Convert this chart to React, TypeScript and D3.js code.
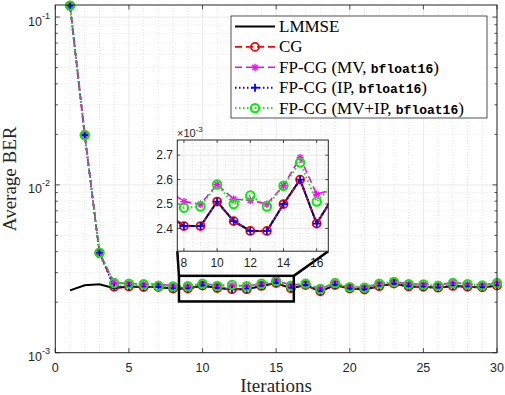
import * as d3 from 'd3';

// ---- data (BER values) ----
const iterations = d3.range(1, 31);
const lmmse = [2.35e-3, 2.52e-3, 2.56e-3, 2.42e-3, 2.48e-3, 2.46e-3, 2.46e-3, 2.41e-3, 2.41e-3, 2.51e-3,
  2.43e-3, 2.39e-3, 2.39e-3, 2.50e-3, 2.60e-3, 2.42e-3, 2.53e-3, 2.32e-3, 2.53e-3, 2.41e-3,
  2.38e-3, 2.49e-3, 2.58e-3, 2.48e-3, 2.47e-3, 2.44e-3, 2.50e-3, 2.47e-3, 2.45e-3, 2.51e-3];
const cg = [0.117, 0.0198, 3.94e-3, 2.47e-3, 2.48e-3, 2.46e-3, 2.46e-3, 2.41e-3, 2.41e-3, 2.51e-3,
  2.43e-3, 2.39e-3, 2.39e-3, 2.50e-3, 2.60e-3, 2.42e-3, 2.53e-3, 2.32e-3, 2.53e-3, 2.41e-3,
  2.38e-3, 2.49e-3, 2.58e-3, 2.48e-3, 2.47e-3, 2.44e-3, 2.50e-3, 2.47e-3, 2.45e-3, 2.51e-3];
const fpMV = [0.117, 0.0198, 3.94e-3, 2.62e-3, 2.58e-3, 2.57e-3, 2.56e-3, 2.51e-3, 2.50e-3, 2.58e-3,
  2.52e-3, 2.515e-3, 2.50e-3, 2.575e-3, 2.69e-3, 2.54e-3, 2.56e-3, 2.41e-3, 2.60e-3, 2.47e-3,
  2.45e-3, 2.58e-3, 2.65e-3, 2.57e-3, 2.56e-3, 2.53e-3, 2.62e-3, 2.57e-3, 2.53e-3, 2.61e-3];
const fpIP = [0.117, 0.0198, 3.94e-3, 2.47e-3, 2.48e-3, 2.46e-3, 2.46e-3, 2.41e-3, 2.41e-3, 2.51e-3,
  2.43e-3, 2.39e-3, 2.39e-3, 2.50e-3, 2.60e-3, 2.42e-3, 2.53e-3, 2.32e-3, 2.53e-3, 2.41e-3,
  2.38e-3, 2.49e-3, 2.58e-3, 2.48e-3, 2.47e-3, 2.44e-3, 2.50e-3, 2.47e-3, 2.45e-3, 2.51e-3];
const fpMVIP = [0.117, 0.0198, 3.94e-3, 2.60e-3, 2.58e-3, 2.56e-3, 2.50e-3, 2.485e-3, 2.49e-3, 2.58e-3,
  2.50e-3, 2.535e-3, 2.49e-3, 2.575e-3, 2.67e-3, 2.51e-3, 2.58e-3, 2.40e-3, 2.60e-3, 2.46e-3,
  2.44e-3, 2.58e-3, 2.64e-3, 2.56e-3, 2.55e-3, 2.51e-3, 2.60e-3, 2.56e-3, 2.52e-3, 2.60e-3];

const xTicks = [0, 5, 10, 15, 20, 25, 30];
const yDecades = [-3, -2, -1];
const insetXTicks = [8, 10, 12, 14, 16];
const insetYTicks = [2.4e-3, 2.5e-3, 2.6e-3, 2.7e-3];
const zoomX = [8.4, 16.2];
const zoomY = [2.02e-3, 2.87e-3];

type Mk = 'none' | 'circle' | 'star' | 'plus' | 'ring';
const series: { name: string; tag?: string; values: number[]; color: string; dash: string; width: number; marker: Mk }[] = [
  { name: 'LMMSE', values: lmmse, color: '#000000', dash: '', width: 2, marker: 'none' },
  { name: 'CG', values: cg, color: '#ff0000', dash: '7,4', width: 1.6, marker: 'circle' },
  { name: 'FP-CG (MV, ', tag: 'bfloat16', values: fpMV, color: '#ff00ff', dash: '7,4', width: 1.6, marker: 'star' },
  { name: 'FP-CG (IP, ', tag: 'bfloat16', values: fpIP, color: '#0000ff', dash: '1.5,2.5', width: 2, marker: 'plus' },
  { name: 'FP-CG (MV+IP, ', tag: 'bfloat16', values: fpMVIP, color: '#00ee00', dash: '1.5,2.5', width: 2, marker: 'ring' },
];

const sans = "'Liberation Sans', Arial, sans-serif";
const serif = "'Liberation Serif', 'Times New Roman', serif";
const mono = "'Liberation Mono', 'Courier New', monospace";
const axisCol = '#262626';
const gridCol = '#dcdcdc';

const M = { left: 55.3, right: 497, top: 5, bottom: 352.7 };
const IN = { left: 177.3, right: 328.3, top: 140, bottom: 251.2 };

function Marker({ kind, x, y, color }: { kind: Mk; x: number; y: number; color: string }) {
  if (kind === 'circle') return <circle cx={x} cy={y} r={4} fill="none" stroke={color} strokeWidth={1.8} />;
  if (kind === 'ring') return <circle cx={x} cy={y} r={4.2} fill="none" stroke={color} strokeWidth={2} />;
  if (kind === 'plus')
    return (
      <g stroke={color} strokeWidth={1.8}>
        <line x1={x - 4} x2={x + 4} y1={y} y2={y} />
        <line x1={x} x2={x} y1={y - 4} y2={y + 4} />
      </g>
    );
  if (kind === 'star') {
    const r = 3.6, d = r * 0.72;
    return (
      <g stroke={color} strokeWidth={1.4}>
        <line x1={x - r} x2={x + r} y1={y} y2={y} />
        <line x1={x} x2={x} y1={y - r} y2={y + r} />
        <line x1={x - d} x2={x + d} y1={y - d} y2={y + d} />
        <line x1={x - d} x2={x + d} y1={y + d} y2={y - d} />
      </g>
    );
  }
  return null;
}

export default function App() {
  const x = d3.scaleLinear().domain([0, 30]).range([M.left, M.right]);
  const y = d3.scaleLog().domain([1e-3, 0.118]).range([M.bottom, M.top]);
  const xi = d3.scaleLinear().domain([7.6, 16.7]).range([IN.left, IN.right]);
  const yi = d3.scaleLinear().domain([2.307e-3, 2.762e-3]).range([IN.bottom, IN.top]);

  const minorY: number[] = [];
  [-3, -2, -1].forEach(d => d3.range(2, 10).forEach(k => { const v = k * Math.pow(10, d); if (v <= 0.118) minorY.push(v); }));
  const minorX = d3.range(1, 30);

  const lineMain = (vals: number[]) =>
    d3.line<number>().x((_, i) => x(iterations[i])).y(v => y(v))(vals) || '';
  const lineInset = (vals: number[]) =>
    d3.line<number>().x((_, i) => xi(iterations[i])).y(v => yi(v))(vals) || '';

  const rx0 = x(zoomX[0]), rx1 = x(zoomX[1]), ry0 = y(zoomY[1]), ry1 = y(zoomY[0]);

  return (
    <svg width={505} height={395} style={{ position: 'absolute', left: 0, top: 0, background: '#fff' }}>
      <defs>
        <clipPath id="insetClip"><rect x={IN.left} y={IN.top} width={IN.right - IN.left} height={IN.bottom - IN.top} /></clipPath>
      </defs>
      <rect x={M.left} y={M.top} width={M.right - M.left} height={M.bottom - M.top} fill="#fff" />
      {/* grid */}
      {minorX.filter(v => v % 5 !== 0).map(v => (
        <line key={'gx' + v} x1={x(v)} x2={x(v)} y1={M.top} y2={M.bottom} stroke={gridCol} strokeWidth={0.7} strokeDasharray="1,2" />
      ))}
      {minorY.map(v => (
        <line key={'gy' + v} x1={M.left} x2={M.right} y1={y(v)} y2={y(v)} stroke={gridCol} strokeWidth={0.7} strokeDasharray="1,2" />
      ))}
      {xTicks.map(v => <line key={'Gx' + v} x1={x(v)} x2={x(v)} y1={M.top} y2={M.bottom} stroke="#e3e3e3" strokeWidth={0.8} />)}
      {yDecades.map(d => <line key={'Gy' + d} x1={M.left} x2={M.right} y1={y(Math.pow(10, d))} y2={y(Math.pow(10, d))} stroke="#e3e3e3" strokeWidth={0.8} />)}

      {/* ticks */}
      <g stroke={axisCol} strokeWidth={0.8}>
        {xTicks.map(v => (
          <g key={'tx' + v}>
            <line x1={x(v)} x2={x(v)} y1={M.bottom} y2={M.bottom - 4.5} />
            <line x1={x(v)} x2={x(v)} y1={M.top} y2={M.top + 4.5} />
          </g>
        ))}
        {yDecades.map(d => (
          <g key={'ty' + d}>
            <line x1={M.left} x2={M.left + 4.5} y1={y(Math.pow(10, d))} y2={y(Math.pow(10, d))} />
            <line x1={M.right} x2={M.right - 4.5} y1={y(Math.pow(10, d))} y2={y(Math.pow(10, d))} />
          </g>
        ))}
        {minorY.map(v => (
          <g key={'my' + v}>
            <line x1={M.left} x2={M.left + 2.5} y1={y(v)} y2={y(v)} />
            <line x1={M.right} x2={M.right - 2.5} y1={y(v)} y2={y(v)} />
          </g>
        ))}
      </g>

      {/* series */}
      {series.map(s => (
        <path key={'p' + s.name + s.color} d={lineMain(s.values)} fill="none" stroke={s.color} strokeWidth={s.width} strokeDasharray={s.dash || undefined} />
      ))}
      {series.map(s => s.marker !== 'none' && s.values.map((v, i) => (
        <Marker key={s.color + i} kind={s.marker} x={x(iterations[i])} y={y(v)} color={s.color} />
      )))}

      <rect x={M.left} y={M.top} width={M.right - M.left} height={M.bottom - M.top} fill="none" stroke={axisCol} strokeWidth={1} />

      {/* tick labels */}
      {xTicks.map(v => (
        <text key={'lx' + v} x={x(v)} y={372} textAnchor="middle" fontFamily={sans} fontSize={12.5} fill={axisCol}>{v}</text>
      ))}
      {yDecades.map(d => (
        <text key={'ly' + d} x={50} y={y(Math.pow(10, d)) + 8.5} textAnchor="end" fontFamily={sans} fontSize={12.5} fill={axisCol}>
          10<tspan dy={-7} fontSize={9}>{d}</tspan>
        </text>
      ))}
      <text x={(M.left + M.right) / 2} y={392} textAnchor="middle" fontFamily={serif} fontSize={19} fill={axisCol}>Iterations</text>
      <text transform={`translate(16,${(M.top + M.bottom) / 2}) rotate(-90)`} textAnchor="middle" fontFamily={serif} fontSize={19} fill={axisCol}>Average BER</text>

      {/* zoom rectangle and connectors */}
      <rect x={rx0} y={ry0} width={rx1 - rx0} height={ry1 - ry0} fill="none" stroke="#000" strokeWidth={2.5} />
      <line x1={rx0} y1={ry0} x2={IN.left} y2={IN.bottom} stroke="#000" strokeWidth={2.5} />
      <line x1={rx1} y1={ry0} x2={IN.right} y2={IN.bottom} stroke="#000" strokeWidth={2.5} />

      {/* inset */}
      <rect x={IN.left} y={IN.top} width={IN.right - IN.left} height={IN.bottom - IN.top} fill="#fff" />
      {d3.range(8, 16.75, 0.5).filter(v => v % 2 !== 0).map(v => (
        <line key={'igx' + v} x1={xi(v)} x2={xi(v)} y1={IN.top} y2={IN.bottom} stroke={gridCol} strokeWidth={0.7} strokeDasharray="1,2" />
      ))}
      {d3.range(2.32e-3, 2.762e-3, 0.02e-3).map(v => (
        <line key={'igy' + v} x1={IN.left} x2={IN.right} y1={yi(v)} y2={yi(v)} stroke={gridCol} strokeWidth={0.7} strokeDasharray="1,2" />
      ))}
      {insetXTicks.map(v => <line key={'iGx' + v} x1={xi(v)} x2={xi(v)} y1={IN.top} y2={IN.bottom} stroke="#e3e3e3" strokeWidth={0.8} />)}
      {insetYTicks.map(v => <line key={'iGy' + v} x1={IN.left} x2={IN.right} y1={yi(v)} y2={yi(v)} stroke="#e3e3e3" strokeWidth={0.8} />)}
      <g clipPath="url(#insetClip)">
        {series.map(s => (
          <path key={'ip' + s.color} d={lineInset(s.values)} fill="none" stroke={s.color} strokeWidth={s.width} strokeDasharray={s.dash || undefined} />
        ))}
      </g>
      {series.map(s => s.marker !== 'none' && s.values.map((v, i) =>
        iterations[i] >= 7.6 && iterations[i] <= 16.7 ? (
          <Marker key={'i' + s.color + i} kind={s.marker} x={xi(iterations[i])} y={yi(v)} color={s.color} />
        ) : null
      ))}
      <g stroke={axisCol} strokeWidth={0.8}>
        {insetXTicks.map(v => (
          <g key={'itx' + v}>
            <line x1={xi(v)} x2={xi(v)} y1={IN.bottom} y2={IN.bottom - 3} />
            <line x1={xi(v)} x2={xi(v)} y1={IN.top} y2={IN.top + 3} />
          </g>
        ))}
        {insetYTicks.map(v => (
          <g key={'ity' + v}>
            <line x1={IN.left} x2={IN.left + 3} y1={yi(v)} y2={yi(v)} />
            <line x1={IN.right} x2={IN.right - 3} y1={yi(v)} y2={yi(v)} />
          </g>
        ))}
      </g>
      <rect x={IN.left} y={IN.top} width={IN.right - IN.left} height={IN.bottom - IN.top} fill="none" stroke={axisCol} strokeWidth={1} />
      {insetXTicks.map(v => (
        <text key={'ilx' + v} x={xi(v)} y={267} textAnchor="middle" fontFamily={sans} fontSize={12} fill={axisCol}>{v}</text>
      ))}
      {insetYTicks.map(v => (
        <text key={'ily' + v} x={173} y={yi(v) + 4.3} textAnchor="end" fontFamily={sans} fontSize={12} fill={axisCol}>{(v * 1e3).toFixed(1)}</text>
      ))}
      <text x={177} y={137} fontFamily={sans} fontSize={11} fill={axisCol}>×10<tspan dy={-5} fontSize={8}>-3</tspan></text>

      {/* legend */}
      <rect x={231} y={16} width={256} height={102} fill="#fff" stroke={axisCol} strokeWidth={0.8} />
      {series.map((s, i) => {
        const ly = 26.5 + i * 20.4;
        return (
          <g key={'lg' + i}>
            <line x1={235} x2={275} y1={ly} y2={ly} stroke={s.color} strokeWidth={s.width} strokeDasharray={s.dash || undefined} />
            <Marker kind={s.marker} x={255} y={ly} color={s.color} />
            <text x={279} y={ly + 5.5} fontFamily={serif} fontSize={17} fill="#000">
              {s.name}
              {s.tag && <tspan fontFamily={mono} fontSize={13} fontWeight={600}>{s.tag}</tspan>}
              {s.tag && <tspan fontFamily={serif} fontSize={17}>)</tspan>}
            </text>
          </g>
        );
      })}
    </svg>
  );
}
